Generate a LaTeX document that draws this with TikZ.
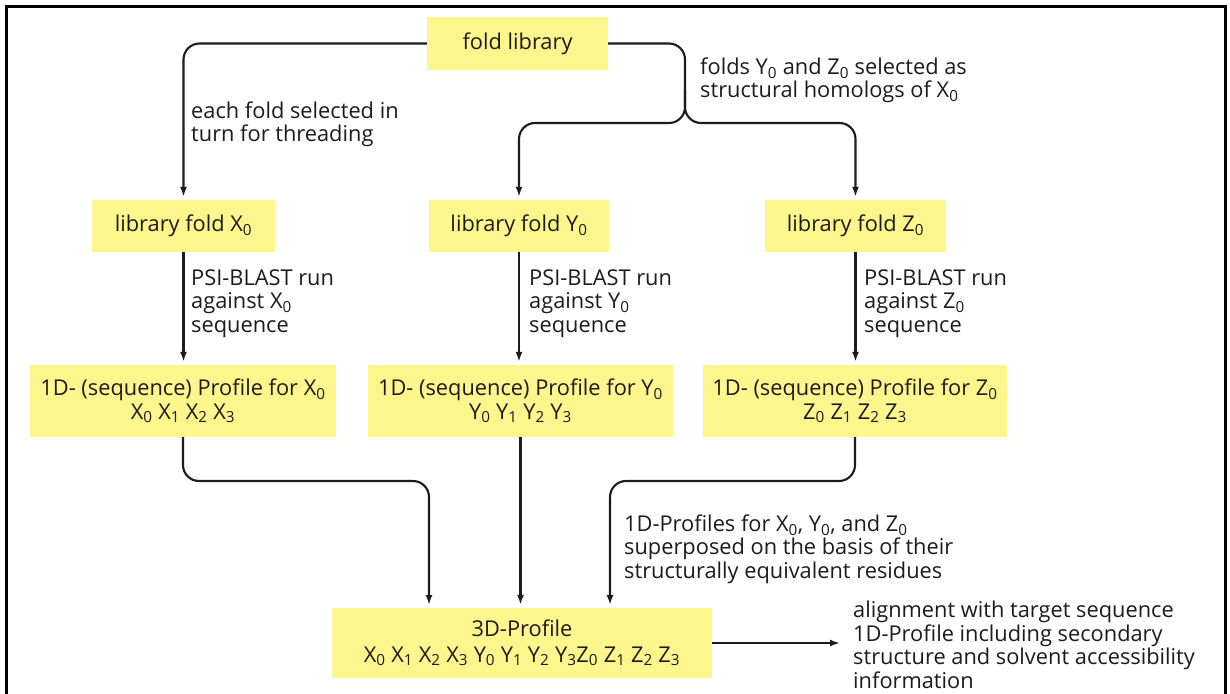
\documentclass[tikz,border=0pt]{standalone}
\usepackage{fontspec}
\setmainfont{Open Sans}
\usetikzlibrary{arrows.meta,calc}
\definecolor{boxyellow}{RGB}{252,246,140}
\definecolor{ink}{RGB}{28,28,28}
\newcommand\sbs[1]{\textsubscript{#1}}
\newcommand\dfont{\fontsize{21.8}{23.5}\selectfont}
\begin{document}
\begin{tikzpicture}[x=1pt,y=-1pt,
  box/.style={fill=boxyellow, inner sep=0pt, align=center, text=ink, font=\dfont},
  lbl/.style={inner sep=0pt, align=left, anchor=west, text=ink, font=\dfont},
  conn/.style={line width=2.1pt, draw=ink, rounded corners=16pt},
  arr/.style={conn, -{Latex[length=10pt,width=7pt]}, shorten >=3pt},
  frame/.style={line width=3pt, draw=black}]
\useasboundingbox (0,0) rectangle (1230,693);
\fill[white] (0,0) rectangle (1230,693);
\begin{scope}
\clip (0,0) rectangle (1230,693);
\draw[frame] (6,710) -- (6,7) -- (1225,7) -- (1225,710);
\end{scope}

% boxes
\node[box, minimum width=181pt, minimum height=53pt] (fold) at (517.5,43.5) {fold library};
\node[box, minimum width=183pt, minimum height=52pt] (fX) at (183.5,226) {library fold X\sbs{0}};
\node[box, minimum width=180pt, minimum height=52pt] (fY) at (519,226) {library fold Y\sbs{0}};
\node[box, minimum width=181pt, minimum height=52pt] (fZ) at (855.5,226) {library fold Z\sbs{0}};
\node[box, minimum width=306pt, minimum height=72pt] (pX) at (183,401)
  {1D- (sequence) Profile for X\sbs{0}\\X\sbs{0} X\sbs{1} X\sbs{2} X\sbs{3}};
\node[box, minimum width=305pt, minimum height=72pt] (pY) at (520.5,401)
  {1D- (sequence) Profile for Y\sbs{0}\\Y\sbs{0} Y\sbs{1} Y\sbs{2} Y\sbs{3}};
\node[box, minimum width=304pt, minimum height=72pt] (pZ) at (855,401)
  {1D- (sequence) Profile for Z\sbs{0}\\Z\sbs{0} Z\sbs{1} Z\sbs{2} Z\sbs{3}};
\node[box, minimum width=380pt, minimum height=70pt] (p3) at (522,643)
  {3D-Profile\\[2pt]X\sbs{0} X\sbs{1} X\sbs{2} X\sbs{3} Y\sbs{0} Y\sbs{1} Y\sbs{2} Y\sbs{3}Z\sbs{0} Z\sbs{1} Z\sbs{2} Z\sbs{3}};

% labels
\node[lbl] (l1) at (191,124.5) {each fold selected in\\turn for threading};
\node[lbl] (l2) at (700,80.5) {folds Y\sbs{0} and Z\sbs{0} selected as\\structural homologs of X\sbs{0}};
\node[lbl] (sX) at (191,303.5) {PSI-BLAST run\\against X\sbs{0}\\sequence};
\node[lbl] (sY) at (529,303.5) {PSI-BLAST run\\against Y\sbs{0}\\sequence};
\node[lbl] (sZ) at (864,303.5) {PSI-BLAST run\\against Z\sbs{0}\\sequence};
\node[lbl] (l3) at (624,549) {1D-Profiles for X\sbs{0}, Y\sbs{0}, and Z\sbs{0}\\superposed on the basis of their\\structurally equivalent residues};
\node[lbl] (out) at (853,645) {alignment with target sequence\\1D-Profile including secondary\\structure and solvent accessibility\\information};

% connector helper points
\coordinate (br) at (685,123);
\coordinate (bj) at (685,90);
\coordinate (hX) at (429,481);
\coordinate (hZ) at (610,481);
\coordinate (inX) at (429,608);
\coordinate (inZ) at (610,608);

% connectors
\draw[arr] (fold.west) -| (fX.north);
\draw[arr] (fold.east) -| (br) -| (fY.north);
\draw[arr] (bj) -- (br) -| (fZ.north);
\draw[arr] (fX.south) -- (fX.south |- pX.north);
\draw[arr] (fY.south) -- (fY.south |- pY.north);
\draw[arr] (fZ.south) -- (fZ.south |- pZ.north);
\draw[arr] (pX.south) |- (hX) -- (inX);
\draw[arr] (pY.south) -- (pY.south |- p3.north);
\draw[arr] (pZ.south) |- (hZ) -- (inZ);
\draw[arr, shorten >=13pt] (p3.east) -- (p3.east -| out.west);
\end{tikzpicture}
\end{document}
